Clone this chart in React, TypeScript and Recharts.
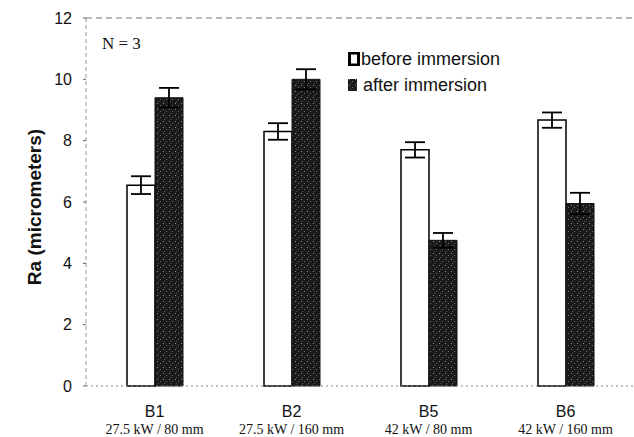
import {
  BarChart,
  Bar,
  XAxis,
  YAxis,
  ErrorBar,
  ReferenceLine,
  Legend,
  Customized,
} from "recharts";

const categories = ["B1", "B2", "B5", "B6"];
const conditions = [
  "27.5 kW / 80 mm",
  "27.5 kW / 160 mm",
  "42 kW / 80 mm",
  "42 kW / 160 mm",
];
const beforeValues = [6.55, 8.3, 7.7, 8.67];
const afterValues = [9.4, 10.0, 4.75, 5.95];
const beforeErrors = [0.29, 0.27, 0.25, 0.25];
const afterErrors = [0.32, 0.33, 0.24, 0.35];
const yTicks = [0, 2, 4, 6, 8, 10, 12];

const data = categories.map((name, i) => ({
  name,
  condition: conditions[i],
  before: beforeValues[i],
  after: afterValues[i],
  beforeErr: beforeErrors[i],
  afterErr: afterErrors[i],
}));

const SANS = "'Liberation Sans', Arial, sans-serif";
const SERIF = "'Liberation Serif', 'Times New Roman', serif";

function CategoryTick(props: any) {
  const { x, y, payload, index } = props;
  return (
    <g>
      <text x={x} y={y + 31} textAnchor="middle" fontFamily={SANS} fontSize={16} fill="#111">
        {payload.value}
      </text>
      <text x={x} y={y + 48} textAnchor="middle" fontFamily={SERIF} fontSize={14} fill="#111">
        {conditions[index]}
      </text>
    </g>
  );
}

function LegendBox() {
  return (
    <div style={{ fontFamily: SANS, fontSize: 18, color: "#111", lineHeight: "26px", textAlign: "left" }}>
      <div style={{ display: "flex", alignItems: "center" }}>
        <svg width={13} height={14}>
          <rect x={1.5} y={1} width={9} height={12} fill="#fff" stroke="#000" strokeWidth={3} />
        </svg>
        <span>before immersion</span>
      </div>
      <div style={{ display: "flex", alignItems: "center" }}>
        <svg width={13} height={14} style={{ marginRight: 2 }}>
          <rect x={0} y={1} width={9} height={12} fill="url(#speckle)" />
        </svg>
        <span>after immersion</span>
      </div>
    </div>
  );
}

export default function App() {
  return (
    <div style={{ position: "absolute", left: 0, top: 0, background: "#fff" }}>
      <BarChart
        width={634}
        height={437}
        data={data}
        margin={{ top: 18, right: 0, bottom: 0, left: 0 }}
        barCategoryGap="29%"
        barGap={0}
      >
        <defs>
          <pattern id="speckle" width={6} height={6} patternUnits="userSpaceOnUse">
            <rect width={6} height={6} fill="#1a1a1a" />
            <rect x={1} y={1} width={1} height={1} fill="#8a8a8a" />
            <rect x={4} y={3} width={1} height={1} fill="#6a6a6a" />
            <rect x={2} y={5} width={1} height={1} fill="#555" />
          </pattern>
        </defs>
        <XAxis
          dataKey="name"
          height={51}
          axisLine={{ stroke: "#888", strokeDasharray: "2 3" }}
          tickLine={false}
          tickSize={0}
          tickMargin={0}
          interval={0}
          tick={<CategoryTick />}
        />
        <YAxis
          width={86}
          domain={[0, 12]}
          ticks={yTicks}
          axisLine={{ stroke: "#999", strokeDasharray: "4 3" }}
          tickLine={{ stroke: "#666" }}
          tickSize={3}
          tickMargin={11}
          tick={{ fontFamily: SANS, fontSize: 16, fill: "#111" }}
          label={{
            content: () => (
              <text
                x={41}
                y={207}
                transform="rotate(-90 41 207)"
                textAnchor="middle"
                fontFamily={SANS}
                fontWeight="bold"
                fontSize={19}
                fill="#111"
              >
                Ra (micrometers)
              </text>
            ),
          }}
        />
        <ReferenceLine y={12} stroke="#777" strokeDasharray="6 4" />
        <Legend
          verticalAlign="middle"
          align="center"
          layout="horizontal"
          wrapperStyle={{ position: "absolute", top: 46, left: 348, width: 200 }}
          content={() => <LegendBox />}
        />
        <Customized
          component={() => (
            <text x={102} y={49} fontFamily={SERIF} fontSize={17} fill="#111">
              N = 3
            </text>
          )}
        />
        <Bar
          dataKey="before"
          name="before immersion"
          fill="#fff"
          stroke="#000"
          strokeWidth={1.5}
          barSize={28}
          isAnimationActive={false}
        >
          <ErrorBar dataKey="beforeErr" width={10} stroke="#000" strokeWidth={1.8} direction="y" />
        </Bar>
        <Bar
          dataKey="after"
          name="after immersion"
          fill="url(#speckle)"
          stroke="#111"
          strokeWidth={1}
          barSize={28}
          isAnimationActive={false}
        >
          <ErrorBar dataKey="afterErr" width={10} stroke="#000" strokeWidth={1.8} direction="y" />
        </Bar>
      </BarChart>
    </div>
  );
}
